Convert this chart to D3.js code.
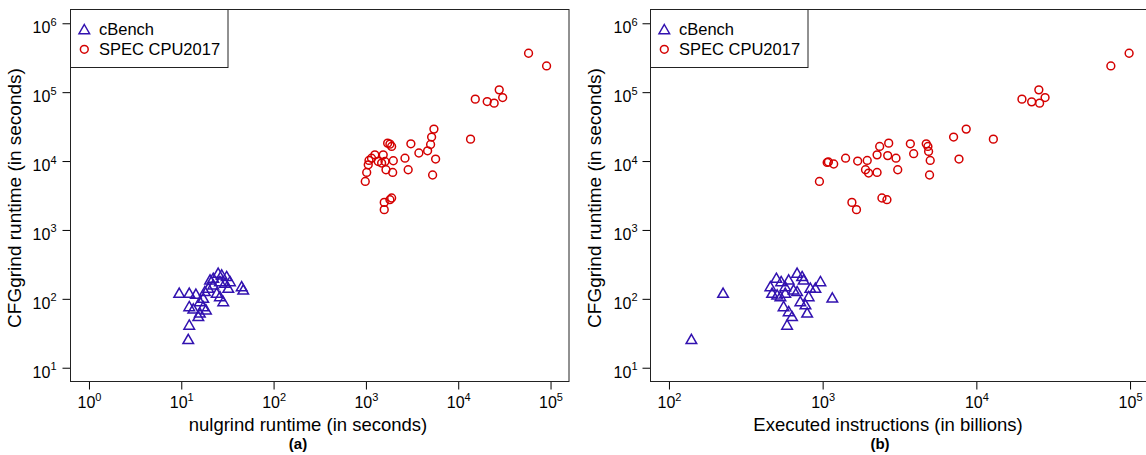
<!DOCTYPE html>
<html>
<head>
<meta charset="utf-8">
<script src="https://cdn.jsdelivr.net/npm/d3@7"></script>
<style>
body { margin: 0; background: #fff; }
svg text { font-family: "Liberation Sans", Arial, Helvetica, sans-serif; fill: #000; }
</style>
</head>
<body>
<svg id="chart" width="1146" height="455"></svg>
<script>
// (a) nulgrind runtime vs CFGgrind runtime, both in seconds
const cbenchA = [
	[9.5,122],[12.2,122],[14.4,118],[18.0,129],[20.5,190],[25.1,238],[27.4,225],[31.0,213],
	[33.7,180],[26.2,180],[22.2,161],[19.6,144],[32.3,144],[45.1,152],[46.9,136],[24.2,122],
	[26.2,109],[17.3,103],[15.9,92],[28.5,92],[12.2,78],[13.5,72],[17.3,78],[18.5,70],
	[15.9,63],[15.3,56],[12.2,42],[11.9,26],[22.2,201],[29.7,171]
];
const specA = [
	[5455,29100],[5150,22300],[5020,17400],[4660,14100],[13600,20800],[3070,17800],[3750,13100],
	[5690,10700],[5280,6270],[1720,18200],[1820,17600],[1900,16300],[2650,11000],[1980,10100],
	[1540,12300],[1250,12300],[1150,11000],[1080,10200],[1360,9860],[1610,9860],[1060,8830],
	[1650,7480],[1950,6840],[2870,7480],[1020,6840],[984,5060],[1900,2910],[1820,2750],
	[1580,2510],[1580,1970],[1480,9360],[57800,367000],[90600,240000],[27800,108000],
	[30300,83500],[15300,79200],[20600,73100],[24500,69300]
];

// (b) executed instructions (billions) vs CFGgrind runtime (seconds)
const cbenchB = [
	[225,122],[140,26],[457,152],[500,201],[537,180],[469,122],[506,115],[571,152],
	[601,190],[682,238],[735,213],[752,190],[647,136],[571,122],[832,144],[897,144],
	[967,180],[811,109],[716,92],[557,78],[601,66],[632,56],[773,83],[793,63],
	[587,42],[1156,104],[531,109],[682,129]
];
const specB = [
	[8590,29100],[7110,22300],[12900,20800],[4720,17800],[4840,16300],[4890,13800],[3720,17800],
	[3910,12800],[5010,10200],[7710,10700],[4960,6270],[3080,7480],[3000,11000],[2690,18200],
	[2650,12000],[2350,16300],[2260,12300],[1950,10200],[1690,10000],[1410,11000],[1900,7480],
	[1990,6700],[2260,6840],[1090,9690],[1180,9060],[953,5060],[2430,2910],[2620,2750],
	[1550,2510],[1660,1970],[1070,9550],[98600,367000],[75000,240000],[25500,108000],
	[28000,83500],[19800,79200],[22900,72300],[25800,69300]
];

const yTicks = [1e1, 1e2, 1e3, 1e4, 1e5, 1e6];
const xTicksA = [1e0, 1e1, 1e2, 1e3, 1e4, 1e5];
const xTicksB = [1e2, 1e3, 1e4, 1e5];
const seriesNames = ["cBench", "SPEC CPU2017"];

const triColor = "#3212b0";
const circColor = "#d40000";
const trianglePath = "M0,-4.8L5.3,4.4L-5.3,4.4Z";

const svg = d3.select("#chart");
const plotTop = 9.5, plotBottom = 381.5;

const y = d3.scaleLog()
	.domain([Math.pow(10, 0.8), Math.pow(10, 6.2)])
	.range([plotBottom, plotTop]);

function supLabel(sel) {
	sel.each(function(d) {
		let t = d3.select(this).text("10");
		t.append("tspan")
			.attr("dy", -7.3)
			.attr("font-size", 11)
			.text(Math.round(Math.log10(d)));
	});
}

function plotPanel(p) {
	let x = d3.scaleLog().domain(p.xDomain).range([p.left, p.right]);
	let g = svg.append("g");

	// x axis
	g.append("g")
		.attr("transform", "translate(0," + plotBottom + ")")
		.call(d3.axisBottom(x).tickValues(p.xTicks).tickSize(8).tickFormat(() => ""))
		.call(a => a.select(".domain").remove())
		.call(a => a.selectAll(".tick line").attr("stroke", "#000"))
		.call(a => a.selectAll(".tick text")
			.attr("y", 26.8).attr("dy", null)
			.attr("font-size", 16)
			.call(supLabel));

	// y axis
	g.append("g")
		.attr("transform", "translate(" + p.left + ",0)")
		.call(d3.axisLeft(y).tickValues(yTicks).tickSize(8).tickFormat(() => ""))
		.call(a => a.select(".domain").remove())
		.call(a => a.selectAll(".tick line").attr("stroke", "#000"))
		.call(a => a.selectAll(".tick text")
			.attr("x", -p.yLabGap).attr("y", 9.3).attr("dy", null)
			.attr("font-size", 16)
			.call(supLabel));

	// points
	g.append("g").selectAll("path")
		.data(p.cbench)
		.enter().append("path")
		.attr("d", trianglePath)
		.attr("transform", d => "translate(" + x(d[0]) + "," + y(d[1]) + ")")
		.attr("fill", "none")
		.attr("stroke", triColor)
		.attr("stroke-width", 1.5);

	g.append("g").selectAll("circle")
		.data(p.spec)
		.enter().append("circle")
		.attr("cx", d => x(d[0]))
		.attr("cy", d => y(d[1]))
		.attr("r", 3.9)
		.attr("fill", "none")
		.attr("stroke", circColor)
		.attr("stroke-width", 1.5);

	// frame
	g.append("rect")
		.attr("x", p.left).attr("y", plotTop)
		.attr("width", p.right - p.left).attr("height", plotBottom - plotTop)
		.attr("fill", "none")
		.attr("stroke", "#222")
		.attr("stroke-width", 1);

	// legend
	let lg = g.append("g").attr("transform", "translate(" + p.left + "," + plotTop + ")");
	lg.append("rect")
		.attr("width", 157.5).attr("height", 58)
		.attr("fill", "#fff").attr("stroke", "#222").attr("stroke-width", 1);
	lg.append("path")
		.attr("d", trianglePath)
		.attr("transform", "translate(13.8,19.8)")
		.attr("fill", "none").attr("stroke", triColor).attr("stroke-width", 1.5);
	lg.append("circle")
		.attr("cx", 13.8).attr("cy", 39.8).attr("r", 3.9)
		.attr("fill", "none").attr("stroke", circColor).attr("stroke-width", 1.5);
	lg.selectAll(".ltext")
		.data(seriesNames)
		.enter().append("text")
		.attr("class", "ltext")
		.attr("x", 28.5)
		.attr("y", (d, i) => 25.5 + i * 20)
		.attr("font-size", 16.5)
		.text(d => d);

	// axis titles
	g.append("text")
		.attr("x", p.xTitleX).attr("y", 431)
		.attr("text-anchor", "middle")
		.attr("font-size", 18.5)
		.text(p.xTitle);
	g.append("text")
		.attr("x", p.capX).attr("y", 449)
		.attr("text-anchor", "middle")
		.attr("font-size", 15)
		.attr("font-weight", "bold")
		.text(p.caption);
	g.append("text")
		.attr("transform", "translate(" + p.yTitleX + ",198) rotate(-90)")
		.attr("text-anchor", "middle")
		.attr("font-size", 19)
		.text("CFGgrind runtime (in seconds)");
}

plotPanel({
	left: 70.5, right: 569,
	xDomain: [Math.pow(10, -0.2), Math.pow(10, 5.2)],
	xTicks: xTicksA,
	cbench: cbenchA, spec: specA,
	yLabGap: 14,
	xTitle: "nulgrind runtime (in seconds)", xTitleX: 308,
	caption: "(a)", capX: 298,
	yTitleX: 21
});

plotPanel({
	left: 650.5, right: 1148.5,
	xDomain: [Math.pow(10, 1.88), Math.pow(10, 5.12)],
	xTicks: xTicksB,
	cbench: cbenchB, spec: specB,
	yLabGap: 13,
	xTitle: "Executed instructions (in billions)", xTitleX: 888,
	caption: "(b)", capX: 880,
	yTitleX: 601
});
</script>
</body>
</html>
